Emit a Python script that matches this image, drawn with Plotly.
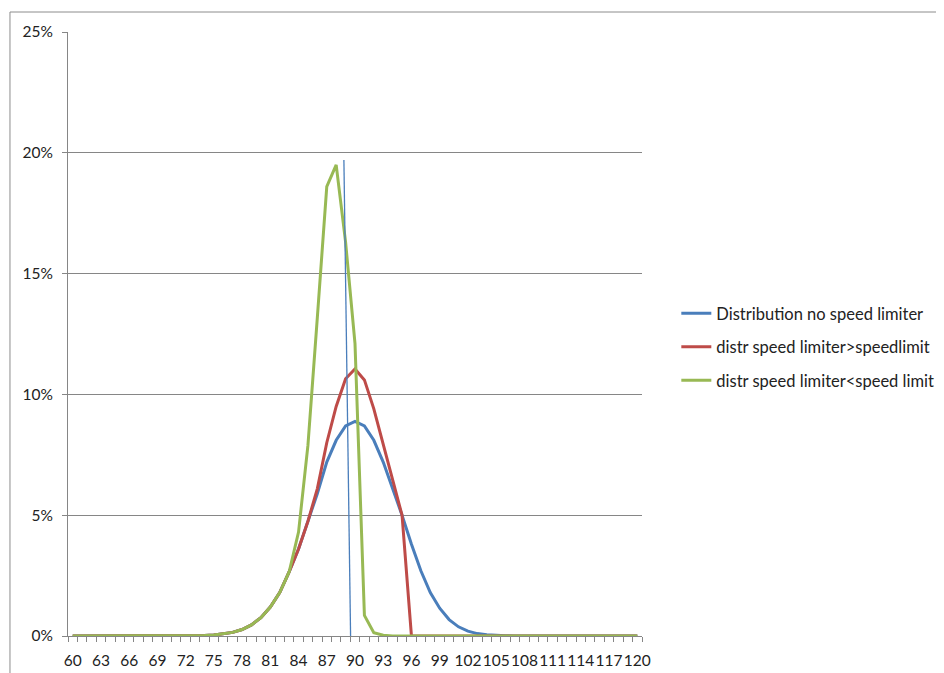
import plotly.graph_objects as go

speeds = list(range(60, 121))

# values in percent
tail_left = [0, 0, 0, 0, 0, 0, 0, 0, 0, 0, 0, 0, 0, 0.01, 0.02, 0.04, 0.08, 0.15, 0.27, 0.46, 0.76, 1.2, 1.8, 2.65]  # 60..83

blue_mid = [3.6, 4.75, 5.9, 7.2, 8.1, 8.7, 8.88, 8.7, 8.1, 7.2, 6.1, 5.0, 3.8, 2.7, 1.8, 1.15, 0.68, 0.38, 0.2, 0.1, 0.05, 0.02, 0.01]  # 84..106
red_mid = [3.6, 4.75, 6.1, 8.0, 9.5, 10.65, 11.05, 10.6, 9.4, 7.9, 6.45, 5.0, 0]  # 84..96
green_mid = [4.3, 7.9, 13.2, 18.6, 19.5, 16.3, 12.1, 0.85, 0.14, 0.03]  # 84..93

no_limiter = tail_left + blue_mid + [0] * (61 - len(tail_left) - len(blue_mid))
limiter_above = tail_left + red_mid + [0] * (61 - len(tail_left) - len(red_mid))
limiter_below = tail_left + green_mid + [0] * (61 - len(tail_left) - len(green_mid))

marker_x = [88.82, 89.53]
marker_y = [19.7, 0]

tick_labels = [str(v) for v in range(60, 121, 3)]

BLUE = "#4A7EBB"
RED = "#BE4B48"
GREEN = "#98B954"
GRID = "#868686"
FONT = "Lato"
TXT = "#222222"

fig = go.Figure()
fig.add_trace(go.Scatter(x=speeds, y=[v / 100 for v in no_limiter], mode="lines",
                         line=dict(color=BLUE, width=3), name="Distribution no speed limiter",
                         legendgroup="a"))
fig.add_trace(go.Scatter(x=speeds, y=[v / 100 for v in limiter_above], mode="lines",
                         line=dict(color=RED, width=3), name="distr speed limiter>speedlimit",
                         legendgroup="b"))
fig.add_trace(go.Scatter(x=speeds, y=[v / 100 for v in limiter_below], mode="lines",
                         line=dict(color=GREEN, width=3), name="distr speed limiter<speed limit",
                         legendgroup="c"))
fig.add_trace(go.Scatter(x=marker_x, y=[v / 100 for v in marker_y], mode="lines",
                         line=dict(color=BLUE, width=1.3), showlegend=False, hoverinfo="skip"))

# page body has an 8px offset; margins compensate
OFF = 8
pw = 641.7 - 68
ph = 636 - 32
L = 68 - OFF
T = 32 - OFF
R = 944 - L - pw
B = 673 - T - ph

fig.add_shape(type="rect", xref="paper", yref="paper",
              x0=(10 - 68) / pw, x1=(960 - 68) / pw,
              y0=(636 - 690) / ph, y1=1 + (32 - 12) / ph,
              line=dict(color="#8c8c8c", width=1), fillcolor="rgba(0,0,0,0)", layer="below")

fig.update_layout(
    width=944, height=673,
    margin=dict(l=L, r=R, t=T, b=B),
    paper_bgcolor="white", plot_bgcolor="white",
    font=dict(family=FONT, size=15, color=TXT),
    showlegend=True,
    legend=dict(x=(676 - 68) / pw, y=(636 - 347) / ph, xanchor="left", yanchor="middle",
                font=dict(family=FONT, size=16.5, color=TXT),
                tracegroupgap=9, traceorder="grouped", bgcolor="rgba(0,0,0,0)"),
    xaxis=dict(range=[59.5, 120.5], tickmode="array", tickvals=list(range(60, 121, 3)),
               ticktext=tick_labels, tickangle=0, ticks="", showgrid=False,
               showline=True, linecolor=GRID, linewidth=1, zeroline=False,
               ticklabelstandoff=10,
               minor=dict(tickmode="linear", tick0=59.5, dtick=1, ticks="outside",
                          ticklen=5, tickcolor=GRID, showgrid=False),
               tickfont=dict(family=FONT, size=15.5, color=TXT)),
    yaxis=dict(range=[0, 0.25], dtick=0.05, tickformat=".0%", ticks="outside", ticklen=5,
               tickcolor=GRID, showgrid=True, gridcolor=GRID, gridwidth=1,
               showline=True, linecolor=GRID, linewidth=1, zeroline=False,
               ticklabelstandoff=6,
               tickfont=dict(family=FONT, size=15.5, color=TXT)),
)

fig.write_html("out.html")
